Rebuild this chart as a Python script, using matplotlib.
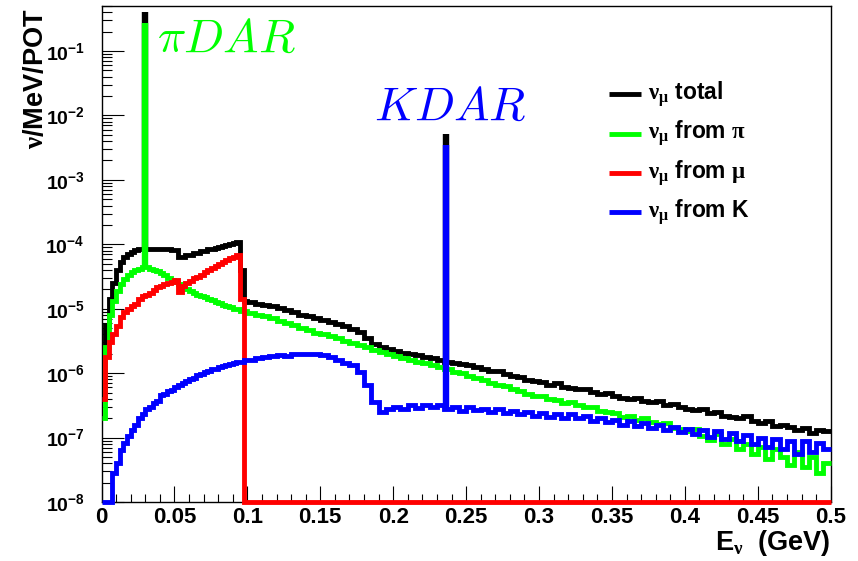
import numpy as np
import matplotlib
matplotlib.use("Agg")
import matplotlib.pyplot as plt
from matplotlib.lines import Line2D
from matplotlib.ticker import MultipleLocator, LogLocator, NullFormatter, FormatStrFormatter

plt.rcParams['font.family'] = ['Liberation Sans', 'DejaVu Sans']
plt.rcParams['font.weight'] = 'bold'
plt.rcParams['mathtext.fontset'] = 'custom'
plt.rcParams['mathtext.rm'] = 'Liberation Sans:bold'
plt.rcParams['mathtext.bf'] = 'Liberation Sans:bold'
plt.rcParams['mathtext.it'] = 'Liberation Sans:italic:bold'
plt.rcParams['mathtext.sf'] = 'Liberation Serif'

# bin edges: 2.5 MeV bins below 0.1 GeV, 5 MeV bins above
edges = np.concatenate([np.linspace(0.0, 0.1, 41), np.linspace(0.1, 0.5, 81)[1:]])

# log10(nu/MeV/POT), None = empty bin
total_low_exp = [-5.80, -5.25, -4.85, -4.60, -4.40, -4.28, -4.20, -4.15, -4.12, -4.09,
                 -4.08, -4.08, -4.08, -4.08, -4.08, -4.08, -4.08, -4.08, -4.08, -4.09,
                 -4.09, -4.20, -4.19, -4.17, -4.16, -4.14, -4.13, -4.11, -4.10, -4.08,
                 -4.07, -4.05, -4.04, -4.02, -4.01, -3.99, -3.98, -3.97, -4.40, -4.88]
total_high_exp = [-4.90, -4.92, -4.94, -4.96, -4.99, -5.02, -5.05, -5.09, -5.12, -5.15,
                  -5.17, -5.20, -5.24, -5.27, -5.31, -5.36, -5.46, -5.55, -5.60, -5.63,
                  -5.66, -5.68, -5.70, -5.72, -5.75, -5.77, -5.79, -5.82, -5.84, -5.86,
                  -5.87, -5.91, -5.93, -5.96, -5.97, -6.02, -6.04, -6.06, -6.10, -6.12,
                  -6.13, -6.18, -6.16, -6.21, -6.23, -6.25, -6.24, -6.29, -6.32, -6.31,
                  -6.36, -6.38, -6.40, -6.38, -6.43, -6.45, -6.44, -6.50, -6.48, -6.53,
                  -6.55, -6.57, -6.56, -6.62, -6.60, -6.66, -6.68, -6.70, -6.67, -6.75,
                  -6.78, -6.74, -6.82, -6.80, -6.84, -6.88, -6.85, -6.93, -6.88, -6.90]

pi_low_exp = [-6.70, -5.60, -5.10, -4.88, -4.72, -4.62, -4.54, -4.47, -4.43, -4.40,
              -4.38, -4.36, -4.36, -4.38, -4.40, -4.42, -4.45, -4.48, -4.52, -4.55,
              -4.59, -4.62, -4.65, -4.69, -4.72, -4.75, -4.78, -4.80, -4.82, -4.85,
              -4.87, -4.89, -4.91, -4.94, -4.96, -4.98, -5.00, -5.01, -5.03, -5.04]
pi_high_exp = [-5.06, -5.09, -5.12, -5.15, -5.19, -5.22, -5.26, -5.30, -5.33, -5.37,
               -5.40, -5.43, -5.46, -5.50, -5.53, -5.56, -5.60, -5.64, -5.67, -5.70,
               -5.73, -5.76, -5.79, -5.82, -5.85, -5.88, -5.91, -5.94, -5.98, -6.00,
               -6.04, -6.08, -6.11, -6.15, -6.18, -6.20, -6.25, -6.27, -6.32, -6.35,
               -6.36, -6.40, -6.42, -6.47, -6.45, -6.50, -6.53, -6.52, -6.58, -6.60,
               -6.62, -6.68, -6.66, -6.72, -6.70, -6.76, -6.79, -6.78, -6.85, -6.87,
               -6.90, -6.86, -6.97, -7.04, -6.95, -7.10, -7.02, -7.18, -7.10, -7.25,
               -7.15, -7.33, -7.18, -7.30, -7.42, -7.22, -7.45, -7.30, -7.55, -7.40]

mu_low_exp = [-6.40, -5.75, -5.52, -5.40, -5.27, -5.13, -5.05, -5.00, -4.96, -4.92,
              -4.85, -4.81, -4.78, -4.75, -4.71, -4.67, -4.64, -4.62, -4.60, -4.58,
              -4.56, -4.74, -4.64, -4.60, -4.57, -4.53, -4.50, -4.47, -4.43, -4.40,
              -4.37, -4.34, -4.31, -4.28, -4.25, -4.22, -4.19, -4.17, -4.85, None]
mu_high_exp = [None] * 80  # no nu_mu from mu decay above the endpoint

k_low_exp = [None, None, None, -7.55, -7.40, -7.20, -7.08, -6.97, -6.88, -6.80,
             -6.70, -6.64, -6.56, -6.52, -6.46, -6.43, -6.34, -6.33, -6.27, -6.26,
             -6.22, -6.19, -6.16, -6.12, -6.09, -6.07, -6.03, -6.01, -5.98, -5.97,
             -5.94, -5.93, -5.90, -5.89, -5.87, -5.86, -5.84, -5.83, -5.82, -5.80]
k_high_exp = [-5.79, -5.77, -5.75, -5.74, -5.72, -5.73, -5.71, -5.70, -5.70, -5.71,
              -5.72, -5.75, -5.79, -5.84, -5.88, -5.98, -6.18, -6.45, -6.60, -6.55,
              -6.52, -6.55, -6.50, -6.54, -6.49, -6.53, -6.50, -6.55, -6.52, -6.58,
              -6.53, -6.57, -6.55, -6.60, -6.56, -6.62, -6.58, -6.64, -6.60, -6.66,
              -6.62, -6.68, -6.63, -6.70, -6.64, -6.69, -6.66, -6.74, -6.70, -6.76,
              -6.72, -6.80, -6.75, -6.82, -6.78, -6.85, -6.80, -6.88, -6.84, -6.92,
              -6.86, -6.95, -6.88, -6.99, -6.90, -7.03, -6.93, -7.06, -6.96, -7.10,
              -7.00, -7.15, -7.02, -7.18, -7.05, -7.25, -7.06, -7.22, -7.08, -7.18]

# decay-at-rest lines (GeV) and their peak heights
spike_energy = [0.0298, 0.2362]
spike_total = [0.41, 5.2e-3]
spike_pi = 0.27
spike_k = 3.5e-3


def flux(exps):
    return np.array([0.0 if e is None else 10.0 ** e for e in exps])


total = flux(total_low_exp + total_high_exp)
from_pi = flux(pi_low_exp + pi_high_exp)
from_mu = flux(mu_low_exp + mu_high_exp)
from_k = flux(k_low_exp + k_high_exp)

GREEN = '#00ff00'
LW = 3.5
SPIKE_LW = 4.6
YMIN, YMAX = 1e-8, 0.5

fig = plt.figure(figsize=(8.58, 5.61), dpi=100)
ax = fig.add_axes([0.1183, 0.1052, 0.8499, 0.8841])

series = [(total, 'black', 2), (from_pi, GREEN, 3), (from_mu, 'red', 4), (from_k, 'blue', 5)]
for vals, color, z in series:
    # empty bins sit on the floor of the log axis, like ROOT
    ax.stairs(np.clip(vals, YMIN, None), edges, baseline=None, color=color,
              lw=LW, zorder=z, clip_on=False)

i_pi = np.searchsorted(edges, spike_energy[0]) - 1
i_k = np.searchsorted(edges, spike_energy[1]) - 1
ax.vlines(spike_energy[0], total[i_pi], spike_total[0], color='black', lw=SPIKE_LW, zorder=2.1)
ax.vlines(spike_energy[0], from_pi[i_pi], spike_pi, color=GREEN, lw=SPIKE_LW, zorder=3.1)
ax.vlines(spike_energy[1], total[i_k], spike_total[1], color='black', lw=SPIKE_LW, zorder=2.1)
ax.vlines(spike_energy[1], from_k[i_k], spike_k, color='blue', lw=SPIKE_LW, zorder=5.1)

ax.set_yscale('log')
ax.set_xlim(0, 0.5)
ax.set_ylim(YMIN, YMAX)
ax.xaxis.set_major_locator(MultipleLocator(0.05))
ax.xaxis.set_minor_locator(MultipleLocator(0.01))
ax.xaxis.set_major_formatter(FormatStrFormatter('%g'))
ax.yaxis.set_major_locator(LogLocator(base=10, numticks=20))
ax.yaxis.set_minor_locator(LogLocator(base=10, subs=np.arange(2, 10), numticks=100))
ax.yaxis.set_minor_formatter(NullFormatter())
ax.tick_params(axis='both', which='both', direction='in', top=False, right=False, width=0.8)
ax.tick_params(axis='x', which='major', length=11.5, pad=3.5, labelsize=16)
ax.tick_params(axis='x', which='minor', length=5.8)
ax.tick_params(axis='y', which='major', length=15.5, pad=12, labelsize=14)
ax.tick_params(axis='y', which='minor', length=7.5)
for sp in ax.spines.values():
    sp.set_linewidth(1.0)

fig.text(36 / 858, 1 - 9 / 561, r'$\mathsf{\nu}$/MeV/POT', rotation=90,
         ha='center', va='top', fontsize=19.5)
fig.text(830.7 / 858, 1 - 550 / 561, r'E$_{\mathsf{\nu}}$  (GeV)',
         ha='right', va='baseline', fontsize=19.5)

fig.text(157 / 858, 1 - 52 / 561, r'$\pi DAR$', math_fontfamily='cm',
         color=GREEN, fontsize=34, va='baseline', ha='left')
fig.text(374 / 858, 1 - 120 / 561, r'$KDAR$', math_fontfamily='cm',
         color='blue', fontsize=34, va='baseline', ha='left')

# legend
labels = [r'$\mathsf{\nu_{\mu}}$ total', r'$\mathsf{\nu_{\mu}}$ from $\mathsf{\pi}$',
          r'$\mathsf{\nu_{\mu}}$ from $\mathsf{\mu}$', r'$\mathsf{\nu_{\mu}}$ from K']
colors = ['black', GREEN, 'red', 'blue']
rows = [94, 133.5, 173, 212]
for lab, col, yp in zip(labels, colors, rows):
    yf = 1 - yp / 561
    fig.add_artist(Line2D([609 / 858, 641 / 858], [yf, yf], transform=fig.transFigure,
                          color=col, lw=LW, solid_capstyle='butt'))
    fig.text(648 / 858, yf, lab, ha='left', va='center', fontsize=16.5)

fig.savefig('out.png', dpi=100)
